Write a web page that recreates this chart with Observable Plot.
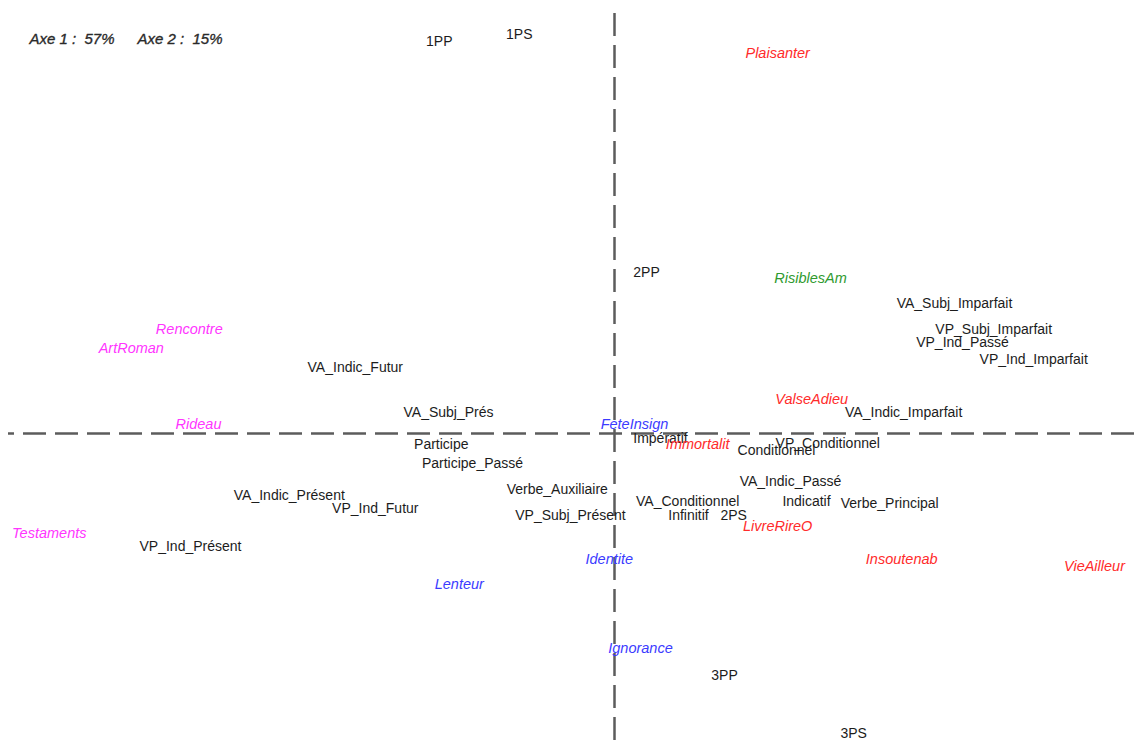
<!DOCTYPE html>
<html>
<head>
<meta charset="utf-8">
<script src="https://cdn.jsdelivr.net/npm/d3@7"></script>
<script src="https://cdn.jsdelivr.net/npm/@observablehq/plot@0.6"></script>
<style>
  html, body { margin: 0; padding: 0; background: #fff; }
  #chart svg { display: block; background: #fff; }
</style>
</head>
<body>
<div id="chart"></div>
<script>
// Correspondence analysis: first factorial plane (Axe 1 : 57%, Axe 2 : 15%)
const labels = [
  "1PP","1PS","Plaisanter","2PP","RisiblesAm","VA_Subj_Imparfait","VP_Subj_Imparfait",
  "VP_Ind_Passé","VP_Ind_Imparfait","Rencontre","ArtRoman","VA_Indic_Futur","VA_Subj_Prés",
  "ValseAdieu","VA_Indic_Imparfait","Rideau","FeteInsign","Impératif","Immortalit",
  "Conditionnel","VP_Conditionnel","Participe","Participe_Passé","VA_Indic_Passé",
  "Verbe_Auxiliaire","VA_Indic_Présent","VP_Ind_Futur","VA_Conditionnel","Indicatif",
  "Verbe_Principal","Infinitif","2PS","VP_Subj_Présent","LivreRireO","Testaments",
  "VP_Ind_Présent","Identite","Insoutenab","VieAilleur","Lenteur","Ignorance","3PP","3PS"
];
const axis1 = [
  -0.438,-0.238,0.408,0.080,0.490,0.850,0.948,
  0.870,1.048,-1.063,-1.208,-0.648,-0.415,
  0.493,0.723,-1.040,0.050,0.115,0.208,
  0.405,0.533,-0.433,-0.355,0.440,
  -0.143,-0.813,-0.598,0.183,0.480,
  0.688,0.185,0.298,-0.110,0.408,-1.413,
  -1.060,-0.013,0.718,1.200,-0.388,0.065,0.275,0.598
];
const axis2 = [
  0.980,0.998,0.950,0.403,0.388,0.325,0.260,
  0.228,0.185,0.260,0.213,0.165,0.053,
  0.085,0.053,0.023,0.023,-0.013,-0.028,
  -0.043,-0.025,-0.028,-0.075,-0.120,
  -0.140,-0.155,-0.188,-0.170,-0.170,
  -0.175,-0.205,-0.205,-0.205,-0.233,-0.250,
  -0.283,-0.315,-0.315,-0.333,-0.378,-0.538,-0.605,-0.750
];
const groups = [
  "var","var","red","var","green","var","var",
  "var","var","magenta","magenta","var","var",
  "red","var","magenta","blue","var","red",
  "var","var","var","var","var",
  "var","var","var","var","var",
  "var","var","var","var","red","magenta",
  "var","blue","red","red","blue","blue","var","var"
];
const inertia = ["Axe 1 :  57%", "Axe 2 :  15%"];

const points = labels.map((label, i) => ({label, x: axis1[i], y: axis2[i], group: groups[i]}));
const colorOf = {var: "#1c1c1c", red: "#ff2b2b", magenta: "#ff36ff", blue: "#3b3bff", green: "#2f9a2f"};

const W = 1134, H = 746;
const chart = Plot.plot({
  width: W,
  height: H,
  margin: 0,
  x: {domain: [-614/400, 520/400], axis: null},
  y: {domain: [-313/400, 433/400], axis: null},
  style: {fontFamily: "'Liberation Sans', Arial, sans-serif", background: "#fff"},
  marks: [
    Plot.ruleX([0], {y1: -0.7675, y2: 1.05, stroke: "#5c5c5c", strokeWidth: 2.5, strokeDasharray: "23,9"}),
    Plot.ruleY([0], {x1: 1.3, x2: -1.515, stroke: "#5c5c5c", strokeWidth: 2.5, strokeDasharray: "23,9"}),
    Plot.text(points.filter(d => d.group === "var"), {
      x: "x", y: "y", text: "label", fill: colorOf.var, fontSize: 14
    }),
    Plot.text(points.filter(d => d.group !== "var"), {
      x: "x", y: "y", text: "label", fill: d => colorOf[d.group], fontSize: 14.5, fontStyle: "italic"
    }),
    Plot.text([inertia[0]], {frameAnchor: "top-left", dx: 29, dy: 39, textAnchor: "start", lineAnchor: "middle",
      text: d => d, fontSize: 15, fontStyle: "italic", fill: "#2a2a2a", stroke: "#2a2a2a", strokeWidth: 0.35}),
    Plot.text([inertia[1]], {frameAnchor: "top-left", dx: 137, dy: 39, textAnchor: "start", lineAnchor: "middle",
      text: d => d, fontSize: 15, fontStyle: "italic", fill: "#2a2a2a", stroke: "#2a2a2a", strokeWidth: 0.35})
  ]
});
document.getElementById("chart").appendChild(chart);
</script>
</body>
</html>
